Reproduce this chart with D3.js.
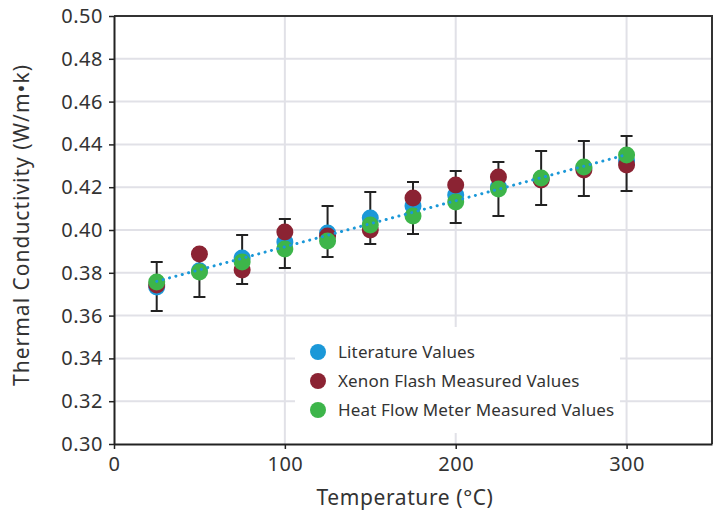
<!DOCTYPE html>
<html>
<head>
<meta charset="utf-8">
<script src="https://cdn.jsdelivr.net/npm/d3@7"></script>
<style>
  body { margin: 0; background: #fff; }
  svg text { font-family: "Noto Sans", sans-serif; fill: #333; }
</style>
</head>
<body>
<div class="chart"></div>
<script>
// temperatures (°C)
var temps = [25, 50, 75, 100, 125, 150, 175, 200, 225, 250, 275, 300];
// thermal conductivity (W/m·k)
var literature = [0.3734, 0.3810, 0.3869, 0.3944, 0.3986, 0.4056, 0.4112, 0.4164, 0.4201, 0.4238, 0.4290, 0.4322];
var xenonFlash = [0.3743, 0.3888, 0.3813, 0.3991, 0.3972, 0.4000, 0.4150, 0.4210, 0.4248, 0.4234, 0.4280, 0.4304];
var heatFlow   = [0.3757, 0.3804, 0.3850, 0.3911, 0.3949, 0.4023, 0.4065, 0.4131, 0.4192, 0.4243, 0.4294, 0.4350];
var errHigh    = [0.3850, 0.3911, 0.3977, 0.4051, 0.4112, 0.4178, 0.4224, 0.4276, 0.4318, 0.4369, 0.4416, 0.4439];
var errLow     = [0.3621, 0.3687, 0.3748, 0.3822, 0.3874, 0.3935, 0.3981, 0.4033, 0.4065, 0.4117, 0.4159, 0.4182];
// dotted trend line end points
var trendX = [25, 300];
var trendY = [0.3760, 0.4352];

var xTicks = [0, 100, 200, 300];
var yTicks = [0.30, 0.32, 0.34, 0.36, 0.38, 0.40, 0.42, 0.44, 0.46, 0.48, 0.50];

var seriesNames = ["Literature Values", "Xenon Flash Measured Values", "Heat Flow Meter Measured Values"];
var seriesColors = ["#1b98d8", "#8b2333", "#3db54a"];

var width = 717, height = 518;
var plotLeft = 114, plotRight = 712, plotTop = 16, plotBottom = 444;

var svg = d3.select(".chart").append("svg")
    .attr("width", width)
    .attr("height", height);

var x = d3.scaleLinear().domain([0, 350]).range([plotLeft, plotRight]);
var y = d3.scaleLinear().domain([0.30, 0.50]).range([plotBottom, plotTop]);

//////// grid
var grid = svg.append("g");
grid.selectAll(".hgrid")
    .data(yTicks.slice(1, -1))
    .enter().append("line")
    .attr("x1", plotLeft).attr("x2", plotRight)
    .attr("y1", function(d) { return y(d); })
    .attr("y2", function(d) { return y(d); })
    .attr("stroke", "#e1e1e7")
    .attr("stroke-width", 2);
grid.selectAll(".vgrid")
    .data(xTicks.slice(1))
    .enter().append("line")
    .attr("y1", plotTop).attr("y2", plotBottom)
    .attr("x1", function(d) { return x(d); })
    .attr("x2", function(d) { return x(d); })
    .attr("stroke", "#e1e1e7")
    .attr("stroke-width", 2);

//////// frame (top / right)
svg.append("path")
    .attr("d", "M " + plotLeft + " " + plotTop + " L " + plotRight + " " + plotTop + " L " + plotRight + " " + plotBottom)
    .attr("fill", "none")
    .attr("stroke", "#333")
    .attr("stroke-width", 2);

//////// axes
var xAxis = svg.append("g")
    .attr("transform", "translate(0," + plotBottom + ")")
    .call(d3.axisBottom(x).tickValues(xTicks).tickSize(5).tickPadding(8).tickSizeOuter(0));
var yAxis = svg.append("g")
    .attr("transform", "translate(" + plotLeft + ",0)")
    .call(d3.axisLeft(y).tickValues(yTicks).tickFormat(d3.format(".2f")).tickSize(5).tickPadding(6).tickSizeOuter(0));

[xAxis, yAxis].forEach(function(a) {
    a.select(".domain").attr("stroke", "#222").attr("stroke-width", 2);
    a.selectAll(".tick line").attr("stroke", "#222").attr("stroke-width", 1.5);
    a.selectAll(".tick text")
        .attr("font-size", "20px")
        .attr("fill", "#333")
        .style("letter-spacing", "0.5px")
        .style("font-family", "'Noto Sans', sans-serif");
});

//////// legend box (white, hides grid)
var legend = svg.append("g");
legend.append("rect")
    .attr("x", 295).attr("y", 327)
    .attr("width", 325).attr("height", 106)
    .attr("fill", "#fff");

//////// error bars
var errs = svg.append("g");
temps.forEach(function(t, i) {
    var cx = x(t);
    errs.append("path")
        .attr("d", "M " + (cx - 6) + " " + y(errHigh[i]) + " L " + (cx + 6) + " " + y(errHigh[i]) +
                   " M " + cx + " " + y(errHigh[i]) + " L " + cx + " " + y(errLow[i]) +
                   " M " + (cx - 6) + " " + y(errLow[i]) + " L " + (cx + 6) + " " + y(errLow[i]))
        .attr("stroke", "#222")
        .attr("stroke-width", 2)
        .attr("fill", "none");
});

//////// markers
var allSeries = [literature, xenonFlash, heatFlow];
allSeries.forEach(function(vals, s) {
    svg.append("g").selectAll("circle")
        .data(vals)
        .enter().append("circle")
        .attr("cx", function(d, i) { return x(temps[i]); })
        .attr("cy", function(d) { return y(d); })
        .attr("r", 8.5)
        .attr("fill", seriesColors[s]);
});

//////// dotted trend line
svg.append("line")
    .attr("x1", x(trendX[0])).attr("y1", y(trendY[0]))
    .attr("x2", x(trendX[1])).attr("y2", y(trendY[1]))
    .attr("stroke", "#1b98d8")
    .attr("stroke-width", 3)
    .attr("stroke-linecap", "round")
    .attr("stroke-dasharray", "0.1,6.5");

//////// legend entries
seriesNames.forEach(function(name, i) {
    var ly = 352 + i * 29;
    legend.append("circle")
        .attr("cx", 318).attr("cy", ly).attr("r", 8)
        .attr("fill", seriesColors[i]);
    legend.append("text")
        .attr("x", 338).attr("y", ly)
        .attr("dy", "0.35em")
        .attr("font-size", "17px")
        .style("letter-spacing", "0.15px")
        .text(name);
});

//////// axis titles
svg.append("text")
    .attr("x", (plotLeft + plotRight) / 2 - 8)
    .attr("y", 505)
    .attr("text-anchor", "middle")
    .attr("font-size", "21px")
    .style("letter-spacing", "0.6px")
    .text("Temperature (°C)");

svg.append("text")
    .attr("transform", "translate(29," + ((plotTop + plotBottom) / 2 - 5) + ") rotate(-90)")
    .attr("text-anchor", "middle")
    .attr("font-size", "21px")
    .style("letter-spacing", "1px")
    .text("Thermal Conductivity (W/m•k)");
</script>
</body>
</html>
